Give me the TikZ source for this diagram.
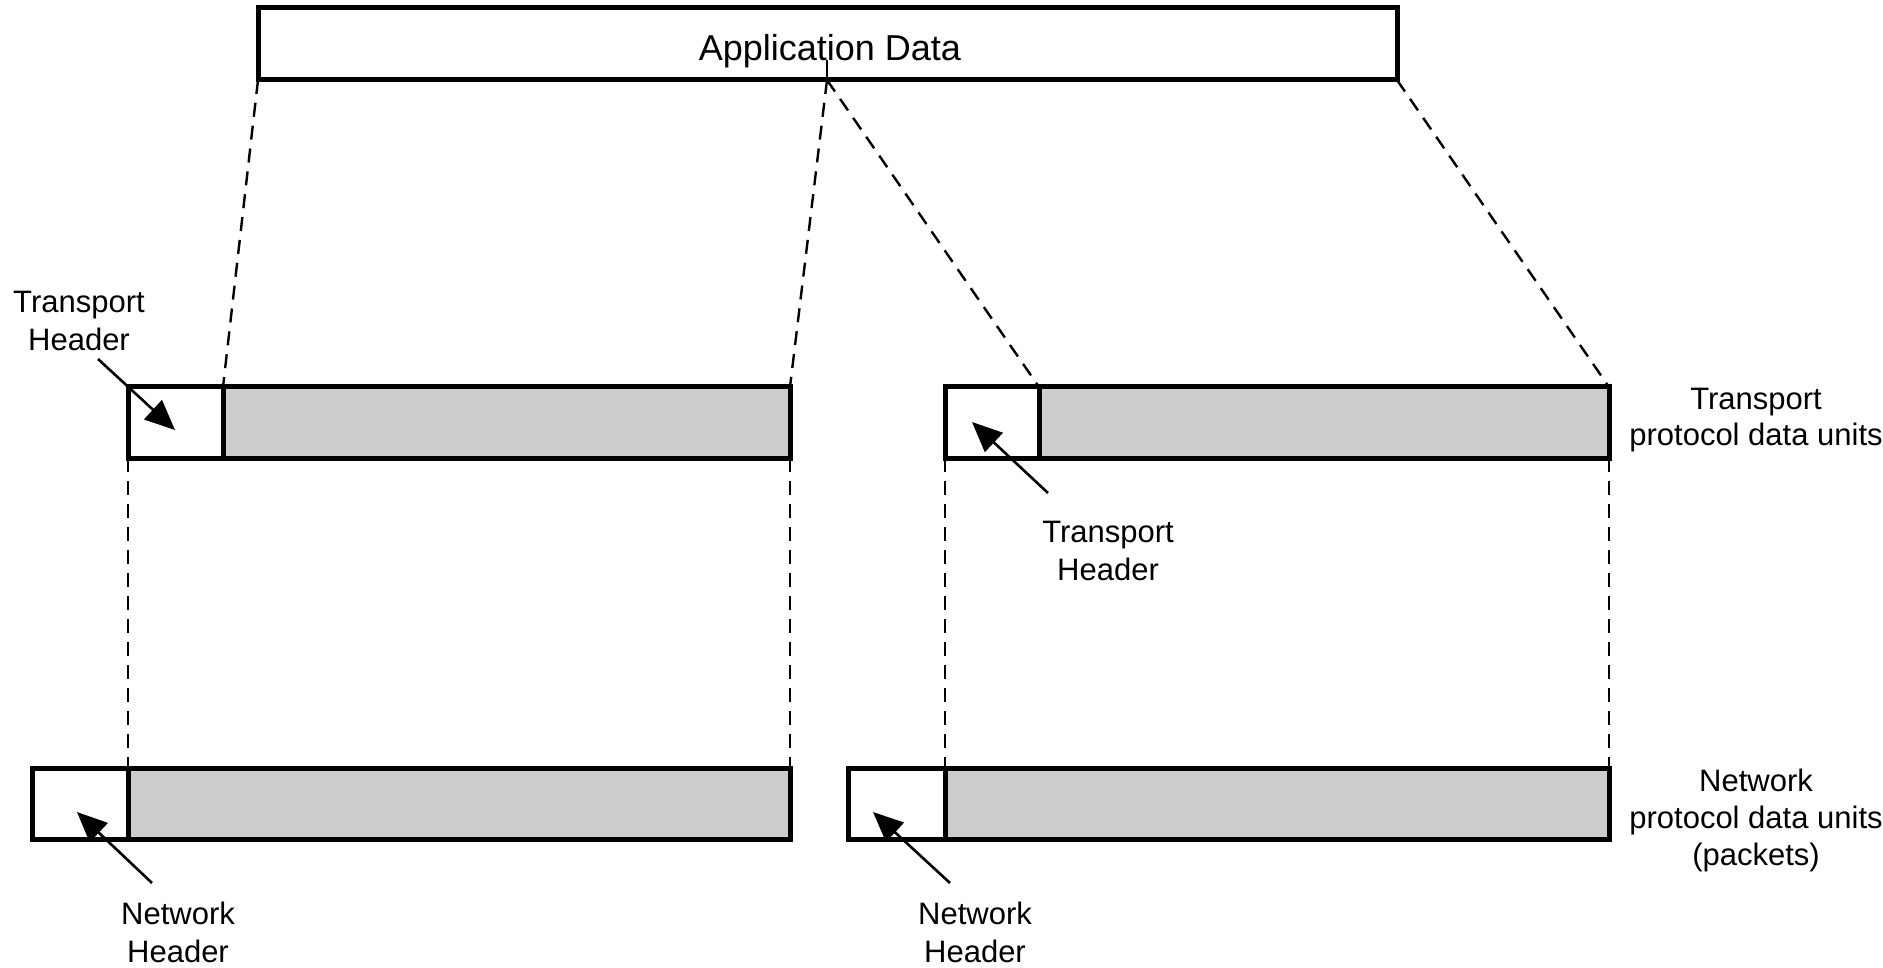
\documentclass[tikz,border=0pt]{standalone}
\usepackage{fontspec}
\setmainfont{Liberation Sans}
\usetikzlibrary{arrows.meta}
\begin{document}
\begin{tikzpicture}[x=1pt,y=-1pt,
  cell/.style={draw=black, line width=5pt, inner sep=0pt, outer sep=0pt, anchor=north west, minimum height=71pt},
  hdrcell/.style={cell, fill=white},
  datcell/.style={cell, fill=black!20},
  guide/.style={draw=black, line width=2.4pt, dash pattern=on 14pt off 9pt},
  ptr/.style={draw=black, line width=2.6pt, -{Triangle[length=30pt,width=26pt]}},
  lbl/.style={align=center, inner sep=0pt, font=\fontsize{31}{38}\selectfont},
]
\fill[white] (0,0) rectangle (1883,968);
\useasboundingbox (0,0) rectangle (1883,968);

% Application data
\node[cell, fill=white, minimum width=1139pt, minimum height=72pt] (app) at (258,8) {};
\node[anchor=base, inner sep=0pt, font=\fontsize{36}{43}\selectfont] (apptext) at (830,61) {Application Data};
\coordinate (split) at (827,80);
\coordinate (splittop) at (827,60);
\draw[line width=1.8pt] (splittop) -- (split);

% Transport PDUs
\node[hdrcell, minimum width=95pt] (lth) at (128,387) {};
\node[datcell, minimum width=567pt] (ltd) at (223,387) {};
\node[hdrcell, minimum width=94pt] (rth) at (945,387) {};
\node[datcell, minimum width=570pt] (rtd) at (1039,387) {};

% Network PDUs
\node[hdrcell, minimum width=96pt] (lnh) at (32,768) {};
\node[datcell, minimum width=662pt] (lnd) at (128,768) {};
\node[hdrcell, minimum width=97pt] (rnh) at (848,768) {};
\node[datcell, minimum width=664pt] (rnd) at (945,768) {};

% Guide lines
\draw[guide] (app.south west) -- (ltd.north west);
\draw[guide] (split) -- (ltd.north east);
\draw[guide] (split) -- (rtd.north west);
\draw[guide] (app.south east) -- (rtd.north east);
\draw[guide] (lth.south west) -- (lnd.north west);
\draw[guide] (ltd.south east) -- (lnd.north east);
\draw[guide] (rth.south west) -- (rnd.north west);
\draw[guide] (rtd.south east) -- (rnd.north east);

% Labels
\node[lbl] (th1) at (79,321) {Transport\\Header};
\node[lbl] (th2) at (1108,551) {Transport\\Header};
\node[lbl] (nh1) at (178,932) {Network\\Header};
\node[lbl] (nh2) at (975,932) {Network\\Header};
\node[lbl, font=\fontsize{31}{36}\selectfont] (tpdu) at (1756,420) {Transport\\protocol data units};
\node[lbl, font=\fontsize{31}{37}\selectfont] (npdu) at (1756,820) {Network\\protocol data units\\(packets)};

% Pointer arrows
\coordinate (a1s) at (98,359);  \coordinate (a1e) at (175,430);
\coordinate (a2s) at (1048,493); \coordinate (a2e) at (972,422);
\coordinate (a3s) at (152,883); \coordinate (a3e) at (77,812);
\coordinate (a4s) at (950,883); \coordinate (a4e) at (873,812);
\draw[ptr] (a1s) -- (a1e);
\draw[ptr] (a2s) -- (a2e);
\draw[ptr] (a3s) -- (a3e);
\draw[ptr] (a4s) -- (a4e);
\end{tikzpicture}
\end{document}
